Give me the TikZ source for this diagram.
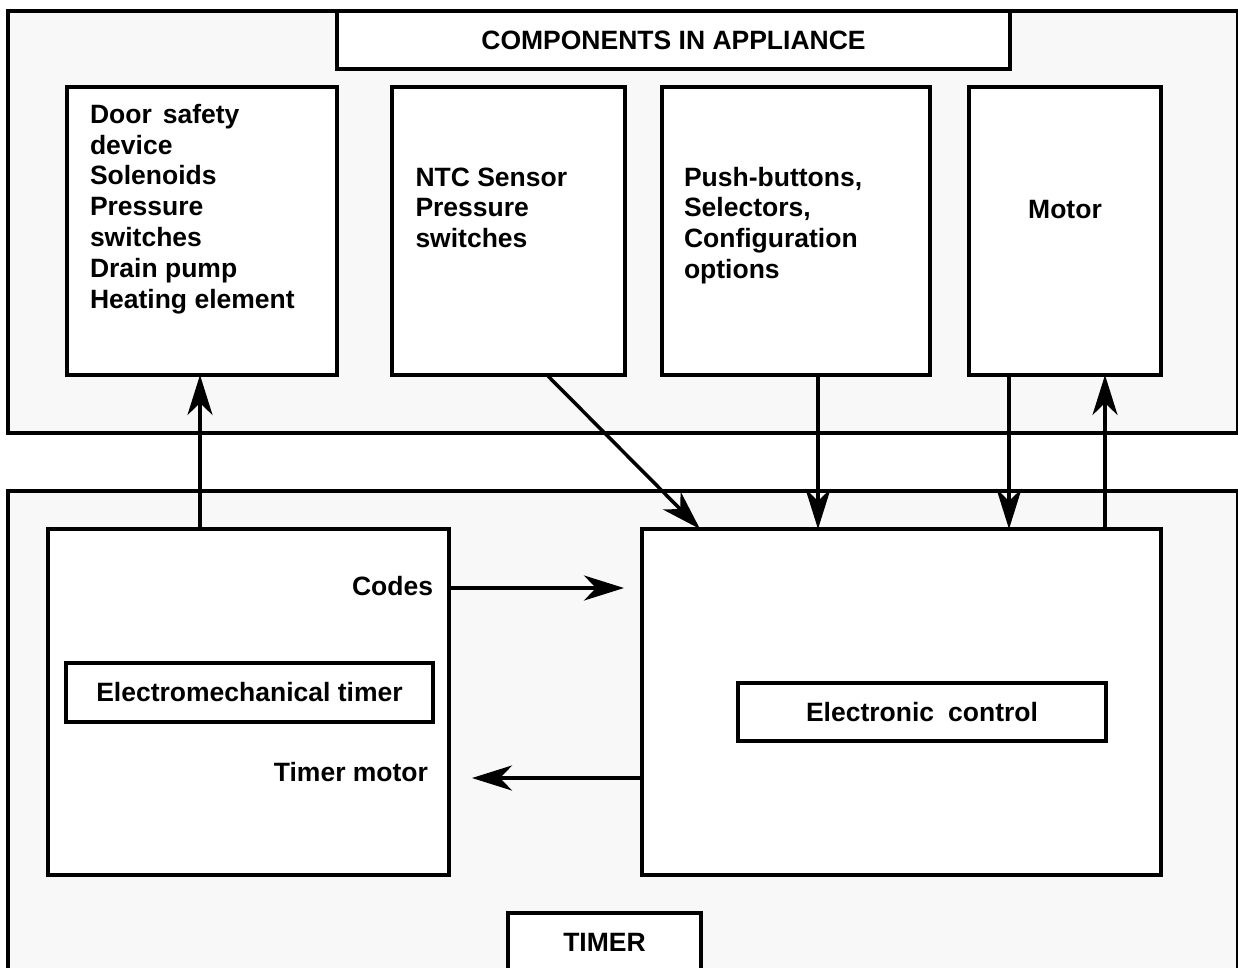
\documentclass[tikz,border=0pt]{standalone}
\usepackage{fontspec}
\setmainfont{Liberation Sans}
\usetikzlibrary{arrows.meta}
\definecolor{panel}{RGB}{247,248,247}
\tikzset{
  box/.style={draw=black, line width=3.5pt, rectangle, inner sep=0pt, outer sep=0pt, fill=white, line join=miter},
  panelbox/.style={box, fill=panel},
  txt/.style={font=\bfseries\fontsize{26.5}{30.8}\selectfont, inner sep=0pt, outer sep=0pt, align=left},
  arr/.style={line width=3.5pt, -{Stealth[length=40pt, width=25pt, inset=12pt]}},
}
\begin{document}
\begin{tikzpicture}[x=1pt, y=-1pt]
\useasboundingbox (0,0) rectangle (1238,967);
\clip (0,0) rectangle (1238,967);
\fill[white] (0,0) rectangle (1238,967);

% outer panels
\node[panelbox, minimum width=1230pt, minimum height=422pt] (comp) at (623,222) {};
\node[panelbox, minimum width=1230pt, minimum height=500pt] (timerpanel) at (623,741) {};

% title
\node[box, txt, minimum width=673pt, minimum height=58pt, align=center] (title) at (673.5,40) {COMPONENTS IN APPLIANCE};

% component boxes
\node[box, minimum width=270pt, minimum height=288pt] (b1) at (202,231) {};
\node[box, minimum width=233pt, minimum height=288pt] (b2) at (508.5,231) {};
\node[box, minimum width=268pt, minimum height=288pt] (b3) at (796,231) {};
\node[box, minimum width=192pt, minimum height=288pt] (b4) at (1065,231) {};

\node[txt, anchor=base west] (t1) at (90,308.1) {Door\hspace{11pt}safety\\device\\Solenoids\\Pressure\\switches\\Drain pump\\Heating element};
\node[txt, anchor=base west] (t2) at (415.5,247.6) {NTC Sensor\\Pressure\\switches};
\node[txt, anchor=base west] (t3) at (684,278.4) {Push-buttons,\\Selectors,\\Configuration\\options};
\node[txt, anchor=base] (t4) at (1065,218) {Motor};

% timer boxes
\node[box, minimum width=401pt, minimum height=346pt] (lt) at (248.5,702) {};
\node[box, minimum width=519pt, minimum height=346pt] (ec) at (901.5,702) {};
\node[box, txt, minimum width=367pt, minimum height=59pt, align=center] (emt) at (249.5,692.5) {Electromechanical timer};
\node[box, txt, minimum width=368pt, minimum height=58pt, align=center] (ectl) at (922,712) {Electronic\hspace{14pt}control};
\node[box, txt, minimum width=193pt, minimum height=58pt, align=center] (tmr) at (604.5,942) {TIMER};

\node[txt, anchor=base east] (codes) at (433,595) {Codes};
\node[txt, anchor=base east] (tmot) at (428,781) {Timer motor};

% connectors
\coordinate (cy) at (0,588);
\coordinate (my) at (0,778);
\draw[arr] ([xshift=-2pt]b1.south |- lt.north) -- ([xshift=-2pt]b1.south);
\draw[arr] ([xshift=38.5pt]b2.south) -- ([xshift=58pt]ec.north west);
\draw[arr] ([xshift=22pt]b3.south) -- ([xshift=22pt]b3.south |- ec.north);
\draw[arr] ([xshift=-56pt]b4.south) -- ([xshift=-56pt]b4.south |- ec.north);
\draw[arr] ([xshift=40pt]b4.south |- ec.north) -- ([xshift=40pt]b4.south);
\draw[arr] (lt.east |- cy) -- ([xshift=-18pt]ec.west |- cy);
\draw[arr] (ec.west |- my) -- ([xshift=23pt]lt.east |- my);
\end{tikzpicture}
\end{document}
